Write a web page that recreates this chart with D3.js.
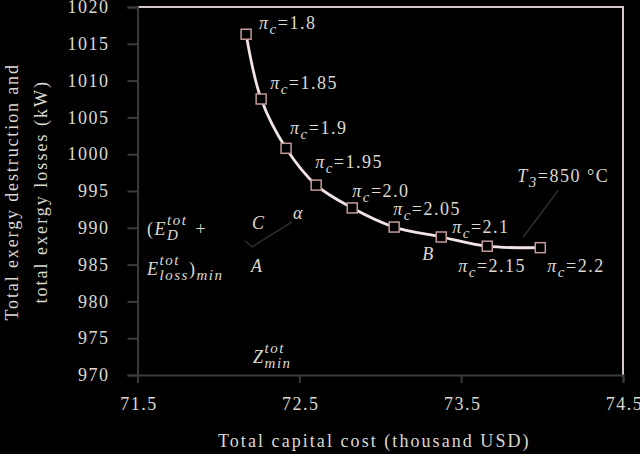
<!DOCTYPE html>
<html>
<head>
<meta charset="utf-8">
<script src="https://cdn.jsdelivr.net/npm/d3@7"></script>
<style>
  html, body { margin: 0; padding: 0; background: #000; }
  svg { display: block; font-family: "Liberation Serif", serif; }
  svg text { font-family: "Liberation Serif", serif; letter-spacing: 1.5px; }
</style>
</head>
<body>
<div id="chart"></div>
<script>
// pressure ratio sweep at T3 = 850 °C
const piC = ["1.8", "1.85", "1.9", "1.95", "2.0", "2.05", "2.1", "2.15", "2.2"];
const capitalCost = [72.171, 72.264, 72.418, 72.604, 72.827, 73.086, 73.377, 73.661, 73.989];
const exergyLoss = [1016.3, 1007.5, 1000.8, 995.8, 992.7, 990.1, 988.75, 987.5, 987.3];

const xTicks = [71.5, 72.5, 73.5, 74.5];
const yTicks = [970, 975, 980, 985, 990, 995, 1000, 1005, 1010, 1015, 1020];

// label offsets (px) from each marker
const labelDx = [13, 9, 4, -1, 0, -1, 11, -29, 7];
const labelDy = [-5, -10, -14, -17, -11, -12, -4, 26, 24];

const W = 640, H = 454;
const margin = { left: 137.5, right: 17, top: 7, bottom: 79 };
const textColor = "#dcd9d0";

const svg = d3.select("#chart").append("svg")
    .attr("width", W).attr("height", H);

const x = d3.scaleLinear().domain([71.5, 74.5]).range([margin.left, W - margin.right]);
const y = d3.scaleLinear().domain([970, 1020]).range([H - margin.bottom, margin.top]);

// top / right frame
svg.append("path")
    .attr("d", `M${x(71.5)},${y(1020)}H${x(74.5)}V${y(970)}`)
    .attr("fill", "none")
    .attr("stroke", "#d4c8c8")
    .attr("stroke-width", 2);

const xAxis = svg.append("g")
    .attr("transform", `translate(0,${y(970)})`)
    .call(d3.axisBottom(x).tickValues(xTicks).tickSize(8).tickPadding(14).tickFormat(d3.format(".1f")));

const yAxis = svg.append("g")
    .attr("transform", `translate(${x(71.5)},0)`)
    .call(d3.axisLeft(y).tickValues(yTicks).tickSize(10).tickPadding(18).tickFormat(d3.format("d")));

[xAxis, yAxis].forEach(g => {
    g.attr("font-family", null);
    g.select(".domain").attr("stroke", "#3a3a3a").attr("stroke-width", 2);
    g.selectAll(".tick line").attr("stroke", "#3a3a3a").attr("stroke-width", 2);
    g.selectAll(".tick text")
        .attr("fill", textColor)
        .style("font-size", "18px");
});
xAxis.selectAll(".tick text").attr("dx", 1);

// axis titles
svg.append("text")
    .attr("x", 374)
    .attr("y", 447)
    .attr("text-anchor", "middle")
    .attr("textLength", 312)
    .attr("lengthAdjust", "spacing")
    .attr("fill", textColor)
    .style("font-size", "18px")
    .text("Total capital cost (thousand USD)");

const yMid = 192;
[["Total exergy destruction and", 18, 257], ["total exergy losses (kW)", 47, 223]].forEach(([s, bx, len]) => {
    svg.append("text")
        .attr("transform", `translate(${bx},${yMid}) rotate(-90)`)
        .attr("text-anchor", "middle")
        .attr("textLength", len)
        .attr("lengthAdjust", "spacing")
        .attr("fill", textColor)
        .style("font-size", "18px")
        .text(s);
});

// faint leader lines
const lineGen = d3.line().x(d => x(d[0])).y(d => y(d[1]));
const leaderCA = [[72.165, 988.2], [72.208, 987.4], [72.455, 990.8]];
const leaderT3 = [[74.100, 995.1], [73.884, 988.75]];
[leaderCA, leaderT3].forEach(pts => {
    svg.append("path")
        .attr("d", lineGen(pts))
        .attr("fill", "none")
        .attr("stroke", "#2e2e2e")
        .attr("stroke-width", 1.5);
});

// curve
const points = capitalCost.map((c, i) => [c, exergyLoss[i]]);
svg.append("path")
    .attr("d", lineGen.curve(d3.curveCatmullRom)(points))
    .attr("fill", "none")
    .attr("stroke", "#f2e4e4")
    .attr("stroke-width", 2.8);

svg.selectAll("rect.mark")
    .data(points)
    .join("rect")
    .attr("class", "mark")
    .attr("x", d => x(d[0]) - 5)
    .attr("y", d => y(d[1]) - 5)
    .attr("width", 10)
    .attr("height", 10)
    .attr("fill", "#000")
    .attr("stroke", "#c49a9a")
    .attr("stroke-width", 1.5);

// rich text: plain runs, and stacked sup/sub runs
function rich(x0, y0, segs) {
    let cx = x0;
    const put = (px, py, s, italic, size) => {
        const t = svg.append("text")
            .attr("x", px).attr("y", py)
            .attr("fill", textColor)
            .style("font-size", size + "px")
            .style("font-style", italic ? "italic" : "normal")
            .text(s);
        return t.node().getComputedTextLength();
    };
    segs.forEach(s => {
        if (s.sup !== undefined || s.sub !== undefined) {
            let w = 0;
            if (s.sup) w = Math.max(w, put(cx, y0 - 10, s.sup, true, 15));
            if (s.sub) w = Math.max(w, put(cx, y0 + 5, s.sub, true, 15));
            cx += w;
        } else {
            cx += put(cx, y0, s.t, s.i, 18) + (s.gap || 0);
        }
    });
}

// pi_c labels
points.forEach((d, i) => {
    rich(x(d[0]) + labelDx[i], y(d[1]) + labelDy[i], [
        { t: "π", i: true }, { sub: "c" }, { t: "=" + piC[i] }
    ]);
});

// annotations
rich(x(72.202), y(984.0), [{ t: "A", i: true }]);
rich(x(73.259), y(985.6), [{ t: "B", i: true }]);
rich(x(72.208), y(989.84), [{ t: "C", i: true }]);
rich(x(72.461), y(991.2), [{ t: "α", i: true }]);
rich(x(73.847), y(996.2), [{ t: "T", i: true }, { sub: "3" }, { t: "=850 °C" }]);
rich(x(71.559), y(989.0), [{ t: "(" }, { t: "E", i: true }, { sup: "tot", sub: "D" }, { t: " ", gap: 8 }, { t: "+" }]);
rich(x(71.559), y(983.6), [{ t: "E", i: true }, { sup: "tot", sub: "loss" }, { t: ")" }, { sub: "min" }]);
rich(x(72.214), y(971.6), [{ t: "Z", i: true }, { sup: "tot", sub: "min" }]);
</script>
</body>
</html>
